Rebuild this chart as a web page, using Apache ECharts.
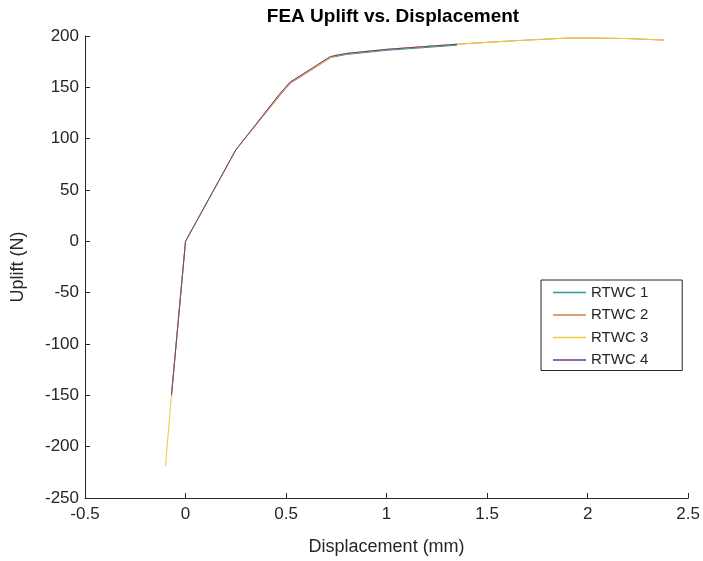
<!DOCTYPE html>
<html>
<head>
<meta charset="utf-8">
<script src="https://cdn.jsdelivr.net/npm/echarts@6/dist/echarts.min.js"></script>
<style>
html,body{margin:0;padding:0;background:#fff;}
#chart{width:703px;height:561px;}
</style>
</head>
<body>
<div id="chart"></div>
<script>
// Data
const seriesNames = ["RTWC 1", "RTWC 2", "RTWC 3", "RTWC 4"];
const rtwc1X = [-0.07, 0, 0.25, 0.48, 0.52, 0.72, 0.8, 1.0, 1.35];
const rtwc1Y = [-150, 0, 89, 146, 155, 179, 182, 186, 191];
const rtwc2X = [-0.07, 0, 0.25, 0.49, 0.53, 0.74, 0.8, 1.0, 1.35, 1.6, 1.9, 2.0, 2.2, 2.38];
const rtwc2Y = [-150, 0, 89, 147, 155, 181, 183, 187, 192, 195, 198, 198, 197.5, 196];
const rtwc3X = [-0.1, -0.07, 0, 0.25, 0.48, 0.52, 0.73, 0.8, 1.0, 1.35, 1.6, 1.9, 2.0, 2.2, 2.38];
const rtwc3Y = [-219, -150, 0, 89, 146, 155, 180, 183, 187, 192, 195, 198, 198.2, 197.5, 196];
const rtwc4X = [-0.07, 0, 0.25, 0.47, 0.52, 0.72, 0.8, 1.0, 1.35];
const rtwc4Y = [-150, 0, 89, 144, 155, 180, 183, 187, 192];
const xTicks = [-0.5, 0, 0.5, 1, 1.5, 2, 2.5];
const yTicks = [-250, -200, -150, -100, -50, 0, 50, 100, 150, 200];

const colors = ["#279a9e", "#d47f4c", "#eccd3d", "#6b3e8a"];
const xs = [rtwc1X, rtwc2X, rtwc3X, rtwc4X];
const ys = [rtwc1Y, rtwc2Y, rtwc3Y, rtwc4Y];
const pair = (x, y) => x.map((v, i) => [v, y[i]]);

const font = "'Liberation Sans', Arial, sans-serif";
const ink = "#262626";

const chart = echarts.init(document.getElementById('chart'), null, {renderer: 'canvas'});
chart.setOption({
  animation: false,
  backgroundColor: '#fff',
  title: {
    text: 'FEA Uplift vs. Displacement',
    left: 388, top: 2, textAlign: 'center',
    textStyle: {fontFamily: font, fontSize: 19, fontWeight: 'bold', color: '#000'}
  },
  grid: {left: 85, right: 13, top: 36, bottom: 63, containLabel: false},
  legend: {
    orient: 'vertical', left: 541, top: 280,
    data: seriesNames,
    icon: 'rect', itemWidth: 33, itemHeight: 1.5, itemGap: 7.5,
    padding: [5, 34, 3, 12],
    borderColor: ink, borderWidth: 1, backgroundColor: '#fff',
    textStyle: {fontFamily: font, fontSize: 15, color: ink},
    selectedMode: false
  },
  xAxis: {
    type: 'value', min: xTicks[0], max: xTicks[xTicks.length - 1], interval: 0.5,
    name: 'Displacement (mm)', nameLocation: 'middle', nameGap: 40,
    nameTextStyle: {fontFamily: font, fontSize: 18, color: ink},
    axisLine: {onZero: false, lineStyle: {color: ink, width: 1}},
    axisTick: {inside: true, length: 5, lineStyle: {color: ink}},
    axisLabel: {fontFamily: font, fontSize: 17, color: ink, margin: 8},
    splitLine: {show: false}
  },
  yAxis: {
    type: 'value', min: yTicks[0], max: yTicks[yTicks.length - 1], interval: 50,
    name: 'Uplift (N)', nameLocation: 'middle', nameGap: 58, nameRotate: 90,
    nameTextStyle: {fontFamily: font, fontSize: 18, color: ink},
    axisLine: {show: true, onZero: false, lineStyle: {color: ink, width: 1}},
    axisTick: {show: true, inside: true, length: 5, lineStyle: {color: ink}},
    axisLabel: {fontFamily: font, fontSize: 17, color: ink, margin: 6},
    splitLine: {show: false}
  },
  series: seriesNames.map((n, i) => ({
    name: n, type: 'line', data: pair(xs[i], ys[i]),
    showSymbol: false, symbol: 'none',
    lineStyle: {color: colors[i], width: 1},
    itemStyle: {color: colors[i]},
    z: 2 + i
  }))
});
</script>
</body>
</html>
